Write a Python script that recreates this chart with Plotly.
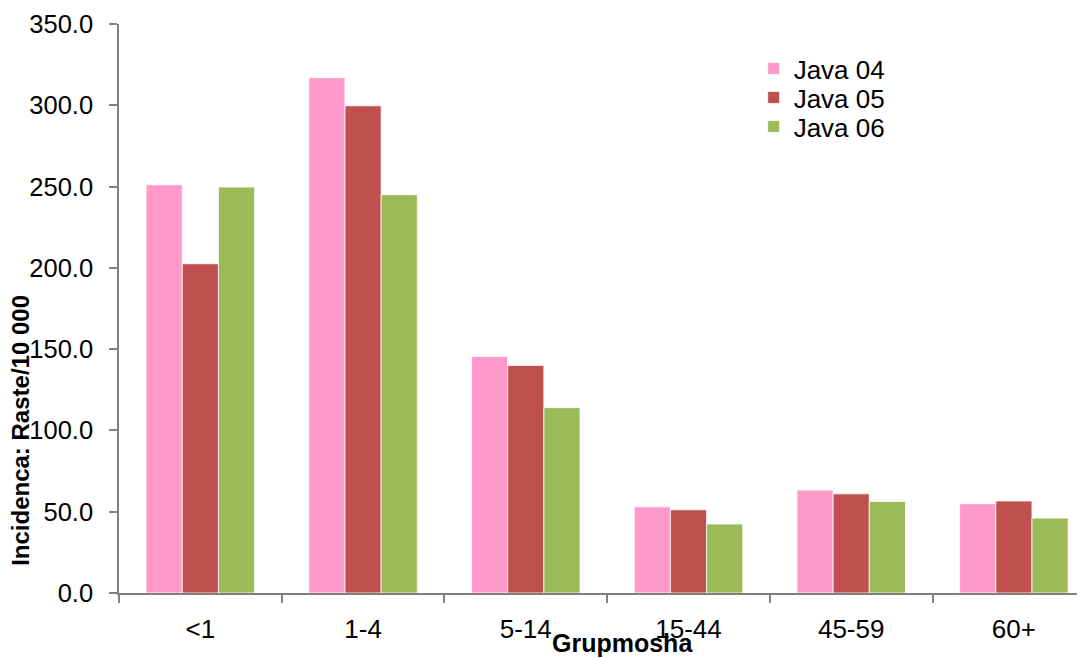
import plotly.graph_objects as go

categories = ["<1", "1-4", "5-14", "15-44", "45-59", "60+"]
java04 = [251.1, 317.0, 145.5, 53.0, 63.3, 54.9]
java05 = [202.5, 299.7, 140.0, 51.2, 61.0, 56.6]
java06 = [249.7, 245.0, 114.0, 42.4, 56.3, 46.1]
series_names = ["Java 04", "Java 05", "Java 06"]
colors = ["#FF99CC", "#C0504D", "#9BBB59"]
y_ticks = [0, 50, 100, 150, 200, 250, 300, 350]

legend_ids = ["legend", "legend2", "legend3"]
legend_y = [0.9217, 0.8708, 0.8199]

fig = go.Figure()
for name, vals, col, lid in zip(series_names, [java04, java05, java06], colors, legend_ids):
    fig.add_trace(go.Bar(
        x=categories, y=vals, name=name, legend=lid,
        marker=dict(color=col, line=dict(color="white", width=0.8)),
    ))

font_family = "Liberation Sans, Arial, sans-serif"
legend_common = dict(xanchor="left", yanchor="middle", x=0.657,
                     font=dict(size=26, family=font_family, color="black"),
                     bgcolor="rgba(0,0,0,0)", borderwidth=0)
layout_legends = {}
for lid, ly in zip(legend_ids, legend_y):
    layout_legends[lid] = dict(legend_common, y=ly)

fig.update_layout(
    width=1077, height=650,
    paper_bgcolor="white", plot_bgcolor="white",
    barmode="group", bargap=0.333, bargroupgap=0,
    margin=dict(l=111, r=0, t=16, b=64.7),
    font=dict(family=font_family, size=26, color="black"),
    showlegend=True,
    xaxis=dict(
        range=[-0.5, 5.437], showline=True, linecolor="#808080", linewidth=1.5,
        ticks="outside", tickson="boundaries", ticklen=8, tickcolor="#808080",
        tickwidth=1.5, showgrid=False, tickfont=dict(size=26),
        ticklabelstandoff=12,
    ),
    yaxis=dict(
        range=[0, 350], tickvals=y_ticks,
        ticktext=[f"{v:.1f}" for v in y_ticks],
        showline=True, linecolor="#808080", linewidth=1.5,
        ticks="outside", ticklen=8, tickcolor="#808080", tickwidth=1.5,
        showgrid=False, zeroline=False, tickfont=dict(size=25.5),
        ticklabelstandoff=11,
    ),
    annotations=[
        dict(text="<b>Grupmosha</b>", xref="paper", yref="paper",
             x=0.5217, y=0, yshift=-50, xanchor="center", yanchor="middle",
             showarrow=False, font=dict(size=25)),
        dict(text="<b>Incidenca: Raste/10 000</b>", xref="paper", yref="paper",
             x=0, xshift=-98, y=0.285, xanchor="center", yanchor="middle",
             textangle=-90, showarrow=False, font=dict(size=24)),
    ],
    **layout_legends,
)

fig.write_html("out.html")
